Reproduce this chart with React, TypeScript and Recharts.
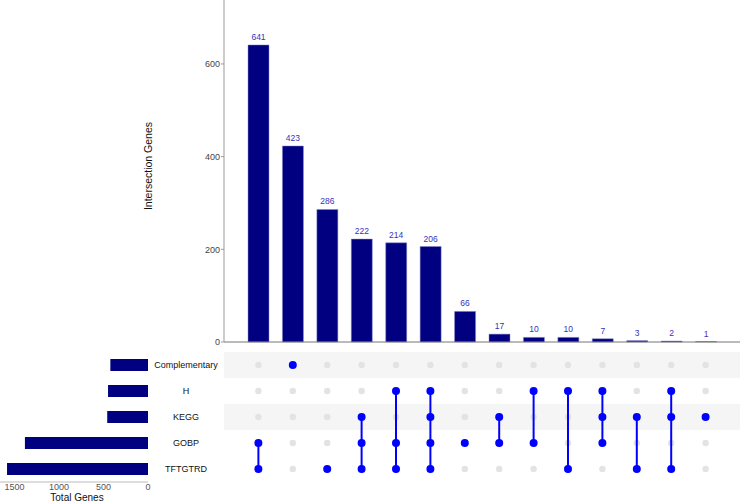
import React from 'react';
import {
  BarChart,
  Bar,
  XAxis,
  YAxis,
  Label,
  LabelList,
  ComposedChart,
  Scatter,
  CartesianGrid,
} from 'recharts';

// sets, top to bottom in the matrix
const setNames = ['Complementary', 'H', 'KEGG', 'GOBP', 'TFTGTRD'];
const setSizes = [423, 449, 458, 1383, 1584];

// intersections, left to right
const intersectionSizes = [641, 423, 286, 222, 214, 206, 66, 17, 10, 10, 7, 3, 2, 1];
const intersectionSets = [
  ['GOBP', 'TFTGTRD'],
  ['Complementary'],
  ['TFTGTRD'],
  ['KEGG', 'GOBP', 'TFTGTRD'],
  ['H', 'GOBP', 'TFTGTRD'],
  ['H', 'KEGG', 'GOBP', 'TFTGTRD'],
  ['GOBP'],
  ['KEGG', 'GOBP'],
  ['H', 'GOBP'],
  ['H', 'TFTGTRD'],
  ['H', 'KEGG', 'GOBP'],
  ['KEGG', 'TFTGTRD'],
  ['H', 'KEGG', 'TFTGTRD'],
  ['KEGG'],
];

const intersectionTicks = [0, 200, 400, 600];
const totalTicks = [0, 500, 1000, 1500];

const NAVY = '#000080';
const BLUE = '#0000ff';
const FONT = '"Liberation Sans", Arial, sans-serif';

const topData = intersectionSizes.map((v, i) => ({
  name: intersectionSets[i].join('&'),
  value: v,
}));

const setData = setNames.map((n, i) => ({ name: n, size: setSizes[i] }));

// matrix cells: x = intersection index, y = row index (+0.5 to sit mid-row)
const emptyCells: { x: number; y: number }[] = [];
const filledCells: { x: number; y: number }[] = [];
intersectionSets.forEach((sets, col) => {
  setNames.forEach((s, row) => {
    const cell = { x: col, y: row + 0.5 };
    if (sets.includes(s)) filledCells.push(cell);
    else emptyCells.push(cell);
  });
});

const segments = intersectionSets
  .map((sets, col) => {
    const rows = sets.map(s => setNames.indexOf(s));
    return [
      { x: col, y: Math.min(...rows) + 0.5 },
      { x: col, y: Math.max(...rows) + 0.5 },
    ];
  })
  .filter(seg => seg[0].y !== seg[1].y);

const grayDot = (p: any) => <circle cx={p.cx} cy={p.cy} r={3.2} fill='#e3e3e3' />;
const blueDot = (p: any) => <circle cx={p.cx} cy={p.cy} r={4} fill={BLUE} />;
const noDot = () => <g />;

const yTitle = (props: any) => {
  const { viewBox } = props;
  const cx = viewBox.x - 36;
  const cy = viewBox.y + viewBox.height / 2 - 5;
  return (
    <text
      x={cx}
      y={cy}
      transform={`rotate(-90, ${cx}, ${cy})`}
      textAnchor='middle'
      dominantBaseline='central'
      fontSize={10.5}
      fill='#111'
    >
      Intersection Genes
    </text>
  );
};

const totalTitle = (props: any) => {
  const { viewBox } = props;
  return (
    <text
      x={viewBox.x + viewBox.width / 2 + 3}
      y={viewBox.y + viewBox.height - 4}
      textAnchor='middle'
      dominantBaseline='central'
      fontSize={10}
      fill='#111'
    >
      Total Genes
    </text>
  );
};

const setTick = (props: any) => {
  const { x, y, payload } = props;
  return (
    <text x={x + 38} y={y} textAnchor='middle' dominantBaseline='central' fontSize={9} fill='#111'>
      {payload.value}
    </text>
  );
};

export default function App() {
  return (
    <div
      style={{
        position: 'absolute',
        left: 0,
        top: 0,
        width: 740,
        height: 501,
        background: '#fff',
        fontFamily: FONT,
      }}
    >
      {/* intersection sizes */}
      <div style={{ position: 'absolute', left: 0, top: 0 }}>
        <BarChart width={740} height={352} data={topData} margin={{ top: 0, right: 0, bottom: 0, left: 184 }}>
          <XAxis
            dataKey='name'
            tick={false}
            tickLine={false}
            axisLine={{ stroke: '#777' }}
            height={10}
            padding={{ left: 17, right: 17 }}
          />
          <YAxis
            type='number'
            domain={[0, 738]}
            ticks={intersectionTicks}
            width={40}
            tickSize={3}
            tickMargin={1}
            tick={{ fontSize: 9, fill: '#444' }}
            tickLine={{ stroke: '#999' }}
            axisLine={{ stroke: '#999' }}
          >
            <Label content={yTitle} />
          </YAxis>
          <Bar dataKey='value' fill={NAVY} stroke='#8888cc' strokeWidth={0.5} barSize={21} isAnimationActive={false}>
            <LabelList dataKey='value' position='top' offset={5} fill='#3333bb' fontSize={8.5} />
          </Bar>
        </BarChart>
      </div>

      {/* membership matrix */}
      <div style={{ position: 'absolute', left: 0, top: 352 }}>
        <ComposedChart width={740} height={130} margin={{ top: 0, right: 0, bottom: 0, left: 224 }}>
          <CartesianGrid
            vertical={false}
            stroke='none'
            horizontalFill={['#f5f5f5', '#ffffff']}
            fillOpacity={1}
          />
          <XAxis type='number' dataKey='x' domain={[-1, 14]} hide />
          <YAxis type='number' dataKey='y' domain={[0, 5]} ticks={[0, 1, 2, 3, 4, 5]} reversed hide />
          <Scatter data={emptyCells} shape={grayDot} isAnimationActive={false} />
          {segments.map((seg, i) => (
            <Scatter
              key={i}
              data={seg}
              line={{ stroke: BLUE, strokeWidth: 2 }}
              shape={noDot}
              isAnimationActive={false}
            />
          ))}
          <Scatter data={filledCells} shape={blueDot} isAnimationActive={false} />
        </ComposedChart>
      </div>

      {/* set sizes */}
      <div style={{ position: 'absolute', left: 0, top: 352 }}>
        <BarChart
          layout='vertical'
          width={224}
          height={149}
          data={setData}
          margin={{ top: 0, right: 0, bottom: 0, left: 0 }}
        >
          <XAxis
            type='number'
            domain={[0, 1663]}
            reversed
            ticks={totalTicks}
            height={19}
            tickSize={0}
            tickMargin={2}
            tick={{ fontSize: 9, fill: '#555' }}
            axisLine={{ stroke: '#bbb' }}
          >
            <Label content={totalTitle} />
          </XAxis>
          <YAxis
            type='category'
            dataKey='name'
            orientation='right'
            width={76}
            tickSize={0}
            tickMargin={0}
            tickLine={false}
            axisLine={false}
            tick={setTick}
          />
          <Bar dataKey='size' fill={NAVY} barSize={12} isAnimationActive={false} />
        </BarChart>
      </div>
    </div>
  );
}
